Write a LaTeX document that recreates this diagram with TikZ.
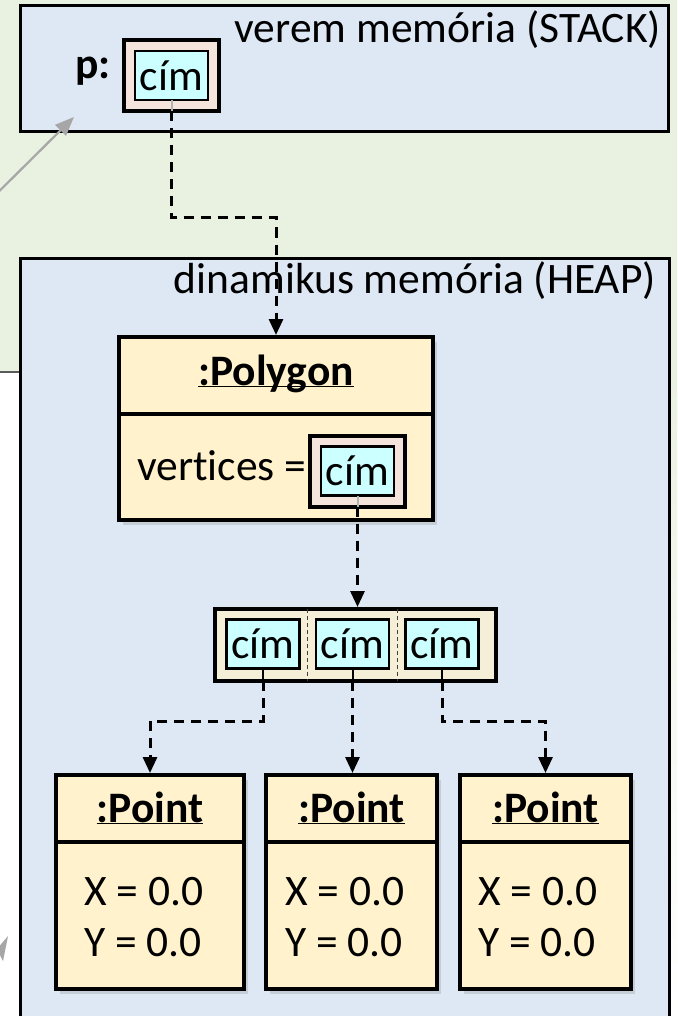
\documentclass[tikz,border=0pt]{standalone}
\usepackage{fontspec}
\setmainfont{Carlito}[Ligatures=NoCommon]
\usetikzlibrary{positioning,arrows.meta,calc,shadows}

\definecolor{slidegreen}{RGB}{233,241,225}
\definecolor{memblue}{RGB}{221,232,244}
\definecolor{objyellow}{RGB}{255,242,204}
\definecolor{arrbeige}{RGB}{246,239,216}
\definecolor{refpink}{RGB}{244,228,220}
\definecolor{cimcyan}{RGB}{204,255,255}
\definecolor{ptrgray}{RGB}{166,166,166}
\definecolor{panelgray}{RGB}{90,90,90}

\newcommand{\objtitle}[1]{\underline{\raisebox{0pt}[\height][0pt]{#1}}}

\begin{document}
\begin{tikzpicture}[
  x=1pt, y=-1pt,
  font=\fontsize{43.5}{52}\selectfont,
  memarea/.style={rectangle, draw, line width=3pt, fill=memblue, anchor=north west, outer sep=0pt},
  memlabel/.style={anchor=base east, inner sep=0pt},
  objbox/.style={rectangle, draw, line width=4.5pt, fill=objyellow, inner sep=0pt, outer sep=0pt,
    drop shadow={opacity=0.25, shadow xshift=4pt, shadow yshift=-5pt}},
  objname/.style={anchor=base, inner sep=0pt, font=\fontsize{43.5}{52}\selectfont\bfseries},
  attr/.style={anchor=base west, inner sep=0pt},
  refbox/.style={rectangle, draw, line width=4pt, fill=refpink, minimum width=95pt, minimum height=71pt, outer sep=0pt},
  arrbox/.style={rectangle, draw, line width=4pt, fill=arrbeige, outer sep=0pt},
  cimbox/.style={rectangle, draw, line width=2.5pt, fill=cimcyan, minimum width=73pt, minimum height=49pt, inner sep=0pt, outer sep=0pt},
  stub/.style={line width=2pt, draw=black!30},
  cellstub/.style={line width=2pt, draw=black},
  celldiv/.style={line width=1.2pt, draw=black!75, dash pattern=on 4pt off 3pt},
  refarrow/.style={-{Triangle[width=14pt,length=16pt]}, line width=3pt, dash pattern=on 10pt off 7pt, shorten >=2pt},
  ptrarrow/.style={-{Triangle[width=15pt,length=19pt]}, line width=2.2pt, draw=ptrgray}
]

% Background
\useasboundingbox (0,0) rectangle (677,1016);
\clip (0,0) rectangle (677,1016);
\fill[white] (0,0) rectangle (677,1016);
\fill[slidegreen] (-10,-10) rectangle (687,372);
\shade[top color=slidegreen, bottom color=white] (660,372) rectangle (687,1016);
\filldraw[fill=white, draw=panelgray, line width=2pt] (-40,372) rectangle (60,1100);
\fill[ptrgray] (-3,949) -- (8,936) -- (3,961) -- cycle;

% Stack
\node[memarea, minimum width=648pt, minimum height=126pt] (stack) at (20,6) {};
\node[memlabel] (stacklabel) at ($(stack.north east)+(-7,37)$) {verem memória (STACK)};
\node[refbox] (pref) at (171.5,75.5) {};
\node[cimbox] (pcim) at (pref) {cím};
\node[anchor=base east, inner sep=0pt, font=\fontsize{43.5}{52}\selectfont\bfseries] (pname) at (111,79) {p:};

% Pointer from outside
\coordinate (ptrfrom) at (-40,230);
\coordinate (ptrto) at (74,117);
\draw[ptrarrow] (ptrfrom) -- (ptrto);

% Heap
\node[memarea, minimum width=649pt, minimum height=800pt] (heap) at (20,258) {};
\node[memlabel] (heaplabel) at ($(heap.north east)+(-13,35)$) {dinamikus memória (HEAP)};

% Polygon object
\node[objbox, minimum width=314pt, minimum height=77pt] (poly) at (276,375.5) {};
\node[objbox, minimum width=314pt, minimum height=106pt, below=0pt of poly] (polybody) {};
\node[objname] (polyname) at ($(poly.north)+(0,48)$) {\objtitle{:Polygon}};
\node[attr] (verts) at ($(polybody.west)+(18,13)$) {vertices =};
\node[refbox] (vref) at (357.5,471) {};
\node[cimbox] (vcim) at (vref) {cím};

% Array of references
\node[arrbox, minimum width=281pt, minimum height=72pt] (arr) at (355.5,645) {};
\node[cimbox] (c1) at (263,644) {cím};
\node[cimbox] (c2) at (352.5,644) {cím};
\node[cimbox] (c3) at (442,644) {cím};
\coordinate (div1) at ($(c1.east)!0.5!(c2.west)$);
\coordinate (div2) at ($(c2.east)!0.5!(c3.west)$);
\draw[celldiv] (div1 |- arr.north) -- (div1 |- arr.south);
\draw[celldiv] (div2 |- arr.north) -- (div2 |- arr.south);

% Point objects
\node[objbox, minimum width=188pt, minimum height=67pt] (pt1) at (150,808.5) {};
\node[objbox, minimum width=188pt, minimum height=147pt, below=0pt of pt1] (pt1body) {};
\node[objname] (pt1name) at ($(pt1.north)+(0,47)$) {\objtitle{:Point}};
\node[attr] (pt1x) at (84,905) {X = 0.0};
\node[attr] (pt1y) at (84,956) {Y = 0.0};

\node[objbox, minimum width=171pt, minimum height=67pt] (pt2) at (351.5,808.5) {};
\node[objbox, minimum width=171pt, minimum height=147pt, below=0pt of pt2] (pt2body) {};
\node[objname] (pt2name) at ($(pt2.north)+(0,47)$) {\objtitle{:Point}};
\node[attr] (pt2x) at (285,905) {X = 0.0};
\node[attr] (pt2y) at (285,956) {Y = 0.0};

\node[objbox, minimum width=171pt, minimum height=67pt] (pt3) at (545.5,808.5) {};
\node[objbox, minimum width=171pt, minimum height=147pt, below=0pt of pt3] (pt3body) {};
\node[objname] (pt3name) at ($(pt3.north)+(0,47)$) {\objtitle{:Point}};
\node[attr] (pt3x) at (478,905) {X = 0.0};
\node[attr] (pt3y) at (478,956) {Y = 0.0};

% References
\draw[stub] (pcim.south) -- (pref.south);
\draw[refarrow] (pref.south) -- ++(0,107) -| (poly.north);
\draw[stub] (vcim.south) -- (vref.south);
\draw[refarrow] (vref.south) -- (vref.south |- arr.north);
\draw[cellstub] (c1.south) -- (c1 |- arr.south);
\draw[cellstub] (c2.south) -- (c2 |- arr.south);
\draw[cellstub] (c3.south) -- (c3 |- arr.south);
\draw[refarrow] (c1 |- arr.south) -- ++(0,40) -| (pt1.north);
\draw[refarrow] (c2 |- arr.south) -- (c2 |- pt2.north);
\draw[refarrow] (c3 |- arr.south) -- ++(0,40) -| (pt3.north);

\end{tikzpicture}
\end{document}
